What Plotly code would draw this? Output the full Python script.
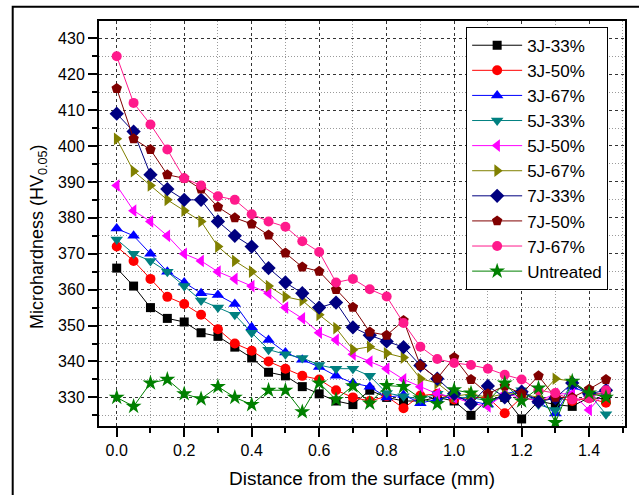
import plotly.graph_objects as go

distance = [0.00, 0.05, 0.10, 0.15, 0.20, 0.25, 0.30, 0.35, 0.40, 0.45,
            0.50, 0.55, 0.60, 0.65, 0.70, 0.75, 0.80, 0.85, 0.90, 0.95,
            1.00, 1.05, 1.10, 1.15, 1.20, 1.25, 1.30, 1.35, 1.40, 1.45]

hv_3j_33 = [366, 361, 355, 352, 351, 348, 347, 344, 341, 337,
            336, 333, 331, 329, 328, 332, 330, 329, 329, 330,
            329, 325, 329.5, 330, 324, 329, 328, 327.5, 330, 329.5]
hv_3j_50 = [372, 368, 363, 358, 356, 353, 349, 345, 343, 340,
            338, 336, 335, 332, 330, 329, 330.3, 327, 330.5, 331,
            329.4, 330, 330, 325.6, 330, 329, 330, 329, 329.8, 328.5]
hv_3j_67 = [377, 375, 370, 365, 362, 359, 358.5, 356, 349.5, 346,
            342.5, 340.5, 338.5, 336, 334, 333, 330, 330.7, 328.4, 329.5,
            330.3, 329, 328, 331, 332, 329, 325.5, 333, 331, 331]
hv_5j_33 = [374, 370, 368, 365, 361, 357, 355, 353, 348, 343.3,
            342, 341, 339, 338, 338, 336, 331.2, 330.3, 329.5, 331,
            330, 330, 329, 330, 332, 328, 326.5, 334, 331, 325.3]
hv_5j_50 = [389, 382, 379, 375, 370, 368, 365, 363, 361, 359,
            355, 352, 348, 346, 342, 340, 338, 335, 333, 331,
            330, 328.4, 327.5, 331, 330, 329, 331, 331, 326.5, 332]
hv_5j_67 = [402, 393, 389, 385, 382, 379, 372, 368, 365, 361,
            358, 357, 353, 349.3, 343.3, 344.1, 342.3, 341.1, 335.2, 334,
            330.3, 331, 330, 331, 331, 330, 335.2, 334.5, 331, 331]
hv_7j_33 = [409, 404, 392, 388, 385, 385, 379, 375, 372, 366,
            362, 359, 355, 356.4, 349.5, 347.3, 345.6, 344, 338.9, 335.2,
            331, 328.2, 333.2, 330, 331.6, 328.8, 329.8, 334, 331, 332]
hv_7j_50 = [416, 402, 399, 392, 391, 388, 383, 380, 378.3, 375.2,
            370.2, 366.3, 365.1, 360, 355.1, 348.2, 347.3, 351.4, 338.9, 335.3,
            341.1, 335, 331, 333.2, 331, 336, 330, 330, 332.3, 335]
hv_7j_67 = [425, 412, 406, 399, 391, 389, 386, 385, 381, 379,
            377.5, 373.5, 370.5, 362, 363, 360.1, 358.1, 350.7, 344.1, 340.7,
            339.6, 339, 338, 336.3, 335, 332, 331.2, 329.4, 329.8, 332]
hv_untreated = [330, 327.5, 334, 335, 331, 329.6, 333, 330, 328, 332,
                332, 326, 334, 329.4, 333.2, 328.4, 333.3, 333, 329.8, 328.2,
                332.1, 331.2, 328.9, 334, 329, 332.6, 323, 334.5, 331.2, 330]

series_names = ["3J-33%", "3J-50%", "3J-67%", "5J-33%", "5J-50%",
                "5J-67%", "7J-33%", "7J-50%", "7J-67%", "Untreated"]
series_values = [hv_3j_33, hv_3j_50, hv_3j_67, hv_5j_33, hv_5j_50,
                 hv_5j_67, hv_7j_33, hv_7j_50, hv_7j_67, hv_untreated]

colors = ["#000000", "#FF0000", "#0000FF", "#008080", "#FF00FF",
          "#808000", "#000080", "#800000", "#FF1A8C", "#008000"]
symbols = ["square", "circle", "triangle-up", "triangle-down", "triangle-left",
           "triangle-right", "diamond", "pentagon", "circle", "star"]
sizes = [9, 10, 11, 11, 11, 11, 11, 11, 10, 12]

fig = go.Figure()
for name, vals, c, s, sz in zip(series_names, series_values, colors, symbols, sizes):
    fig.add_trace(go.Scatter(
        x=distance, y=vals, name=name, mode="lines+markers",
        line=dict(color=c, width=1),
        marker=dict(symbol=s, size=sz, color=c, line=dict(width=0)),
    ))

font_family = "Liberation Sans, Arial, sans-serif"

fig.update_layout(
    width=639, height=495,
    margin=dict(l=99, r=14, t=21, b=69, autoexpand=False),
    paper_bgcolor="white", plot_bgcolor="white",
    font=dict(family=font_family, color="black"),
    showlegend=True,
    legend=dict(
        x=0.698, y=0.986, xanchor="left", yanchor="top",
        bgcolor="white", bordercolor="black", borderwidth=1,
        font=dict(size=17, family=font_family), tracegroupgap=0,
        itemwidth=50, entrywidth=145, entrywidthmode="pixels",
    ),
    shapes=[dict(type="rect", xref="paper", yref="paper",
                 x0=(12.7 - 99) / 526, x1=(660 - 99) / 526,
                 y0=(426 - 520) / 405, y1=(426 - 6.7) / 405,
                 line=dict(color="black", width=2), layer="above")],
    annotations=[dict(
        text="Microhardness (HV<sub>0.05</sub>)", xref="paper", yref="paper",
        x=(38 - 99) / 526, y=(426 - 237) / 405, xanchor="center", yanchor="middle",
        textangle=-90, showarrow=False, font=dict(size=18, family=font_family),
    )],
)

fig.update_xaxes(
    automargin=False,
    range=[-0.0525, 1.5064], tickmode="linear", tick0=0, dtick=0.2,
    tickformat=".1f", ticks="outside", ticklen=9, tickwidth=1.5, tickcolor="black",
    showline=True, linewidth=2, linecolor="black", mirror=True,
    showgrid=True, gridcolor="#333333", gridwidth=1, griddash="3px,3px",
    zeroline=False,
    tickfont=dict(size=16),
    minor=dict(dtick=0.1, tick0=0, ticks="outside", ticklen=5, tickwidth=1.5,
               tickcolor="black", showgrid=True, gridcolor="#9a9a9a",
               gridwidth=1, griddash="1px,2px"),
    title=dict(text="Distance from the surface (mm)", font=dict(size=19), standoff=13),
)
fig.update_yaxes(
    automargin=False,
    range=[322.04, 434.8], tickmode="linear", tick0=330, dtick=10,
    ticks="outside", ticklen=9, tickwidth=1.5, tickcolor="black",
    showline=True, linewidth=2, linecolor="black", mirror=True,
    showgrid=True, gridcolor="#333333", gridwidth=1, griddash="3px,3px",
    zeroline=False,
    tickfont=dict(size=16),
    minor=dict(dtick=5, tick0=330, ticks="outside", ticklen=5, tickwidth=1.5,
               tickcolor="black", showgrid=True, gridcolor="#9a9a9a",
               gridwidth=1, griddash="1px,2px"),
)

fig.write_html("out.html")
